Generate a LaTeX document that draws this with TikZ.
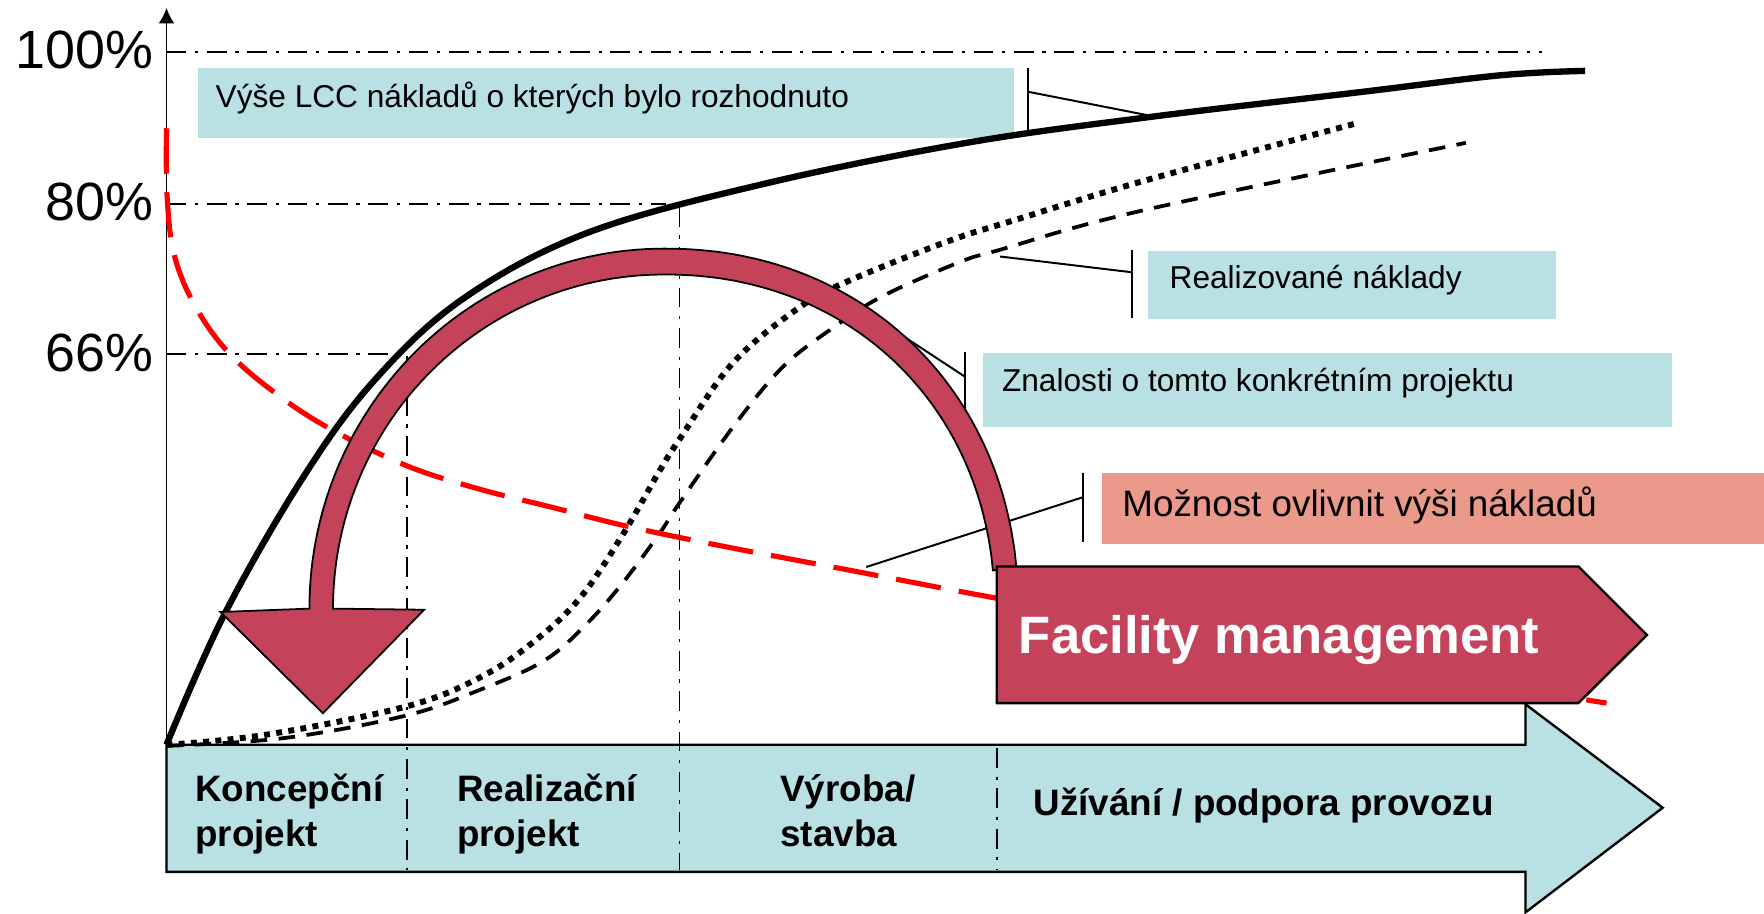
\documentclass[tikz,border=0pt]{standalone}
\usepackage{fontspec}
\setmainfont{Liberation Sans}
\usetikzlibrary{arrows.meta}
\definecolor{lblue}{HTML}{B9E0E3}
\definecolor{crim}{HTML}{C4435A}
\definecolor{salm}{HTML}{EA998B}
\begin{document}
\begin{tikzpicture}[x=0.01cm,y=-0.01cm,
  gridline/.style={line width=0.45pt, dash pattern=on 5pt off 2.2pt on 0.8pt off 2.2pt},
  callbox/.style={draw=none, inner sep=0pt, anchor=north west},
  ptr/.style={line width=0.5pt},
  pct/.style={anchor=base east, inner sep=0pt, font=\fontsize{13.6}{16}\selectfont},
  ctext/.style={anchor=base west, inner sep=0pt, font=\fontsize{8}{10}\selectfont},
  phase/.style={anchor=base west, inner sep=0pt, align=left, font=\bfseries\fontsize{9.3}{11.38}\selectfont},
  lcccurve/.style={line width=1.6pt},
  dotcurve/.style={line width=1.5pt, dash pattern=on 1.5pt off 1.6pt},
  dashcurve/.style={line width=0.95pt, dash pattern=on 4.2pt off 2.9pt},
  redcurve/.style={line width=1.3pt, red, dash pattern=on 11.5pt off 4.6pt},
  bandarrow/.style={fill=lblue, draw=black, line width=0.6pt, line join=miter},
  fmarrow/.style={fill=crim, draw=black, line width=0.6pt, line join=miter},
  arcarrow/.style={fill=crim, draw=black, line width=0.45pt, line join=miter},
]
\useasboundingbox (0,0) rectangle (1568,812);

% grid lines
\coordinate (o) at (148,662);
\coordinate (ytop) at (148,7);
\draw[gridline] (148,46) -- (1371,46);
\draw[gridline] (148,181) -- (592,181);
\draw[gridline] (148,315) -- (346,315);

% axis
\draw[line width=0.5pt, -{Latex[length=3.9pt, width=4pt]}] (o) -- (ytop);

% percent labels
\node[pct] (p100) at (137,61) {100\%};
\node[pct] (p80) at (137,196) {80\%};
\node[pct] (p66) at (137,330) {66\%};

% callout boxes
\node[callbox, fill=lblue, minimum width=7.25cm, minimum height=0.615cm] (lccbox) at (175,60) {};
\node[callbox, fill=lblue, minimum width=3.62cm, minimum height=0.61cm] (realbox) at (1020,222) {};
\node[callbox, fill=lblue, minimum width=6.12cm, minimum height=0.66cm] (znbox) at (873,313) {};
\node[callbox, fill=salm, minimum width=5.89cm, minimum height=0.63cm] (mozbox) at (979,420) {};

% bottom phase arrow
\draw[bandarrow] (148,662) -- (1356,662) -- (1356,626) -- (1478,718) -- (1356,811) -- (1356,775) -- (148,775) -- cycle;

% vertical dividers
\draw[gridline] (362,316) -- (362,773);
\draw[gridline] (604,184) -- (604,773);
\draw[gridline] (886,665) -- (886,773);

% curves
\draw[dotcurve] plot[smooth, tension=0.6] coordinates {(148,662) (237,653) (361,628) (427,602) (475,570) (516,531) (554,474.5) (586,419) (605,389) (652,322) (711,273) (756,249) (844,214) (904,195) (1016,161) (1208,109)};
\draw[dashcurve] plot[smooth, tension=0.6] coordinates {(148,663) (253,656) (361,636) (427,613) (484,587) (522,554) (554,517.5) (586,474.5) (604,447) (652,379) (696,326) (741,291) (785,263) (853,233) (889,222) (1016,187) (1303,127)};
\draw[lcccurve] plot[smooth, tension=0.6] coordinates {(148,662) (199,547) (269,425) (332,339) (411,266) (522,207) (681,163) (859,127) (1022,104) (1208,82) (1333,67) (1409,63)};
\draw[redcurve] plot[smooth, tension=0.6] coordinates {(148,114) (148.5,174) (155,227) (174,273) (205.5,316) (253,355.5) (300.5,385) (364,415) (427,435) (491,451) (554,467) (640,485) (756,507) (871,529) (1100,571) (1428,625)};

% pointer coordinates
\coordinate (lccA) at (913.5,60);
\coordinate (lccB) at (913.5,117);
\coordinate (lccM) at (913.5,81.5);
\coordinate (lccT) at (1023,103);
\coordinate (realA) at (1006,222);
\coordinate (realB) at (1006,283);
\coordinate (realM) at (1006,242);
\coordinate (realT) at (889,228);
\coordinate (znA) at (858,313);
\coordinate (znB) at (858,375);
\coordinate (znM) at (858,335);
\coordinate (znT) at (794,293);
\coordinate (mozA) at (962.5,420);
\coordinate (mozB) at (962.5,482);
\coordinate (mozM) at (962.5,442);
\coordinate (mozT) at (770,504);
\draw[ptr] (lccA) -- (lccB);
\draw[ptr] (lccM) -- (lccT);
\draw[ptr] (realA) -- (realB);
\draw[ptr] (realM) -- (realT);
\draw[ptr] (znA) -- (znB);
\draw[ptr] (znM) -- (znT);
\draw[ptr] (mozA) -- (mozB);
\draw[ptr] (mozM) -- (mozT);

% curved crimson arrow
\filldraw[arcarrow] (196,544) -- (287,634) -- (377,542) -- (296,541)
  -- plot[domain=180:90, samples=60] ({590+294*cos(\x)},{541-297*sin(\x)})
  -- plot[domain=89.5:5.88, samples=70] ({590+294*pow(cos(\x),0.952)},{541-297*pow(sin(\x),0.952)})
  -- plot[domain=5.96:89.5, samples=70] ({590+315*pow(cos(\x),0.952)},{541-320*pow(sin(\x),0.952)})
  -- plot[domain=90:180, samples=60] ({590+315*cos(\x)},{541-320*sin(\x)})
  -- cycle;

% facility management arrow
\draw[fmarrow] (886,503.5) -- (1403,503.5) -- (1464,564.5) -- (1403,625) -- (886,625) -- cycle;
\node[anchor=base west, inner sep=0pt, text=white, font=\bfseries\fontsize{13.3}{16}\selectfont] (fm) at (905,581) {Facility management};

% callout texts
\node[ctext] (lcctxt) at (191,96) {Výše LCC nákladů o kterých bylo rozhodnuto};
\node[ctext] (realtxt) at (1039,256) {Realizované náklady};
\node[ctext] (zntxt) at (890,348) {Znalosti o tomto konkrétním projektu};
\node[ctext, font=\fontsize{9.3}{11}\selectfont] (moztxt) at (997,459) {Možnost ovlivnit výši nákladů};

% phase labels (base = last line)
\node[phase] (ph1) at (173,752.6) {Koncepční\\projekt};
\node[phase] (ph2) at (405.6,752.6) {Realizační\\projekt};
\node[phase] (ph3) at (693,752.6) {Výroba/\\stavba};
\node[phase] (ph4) at (918,724.5) {Užívání / podpora provozu};
\end{tikzpicture}
\end{document}
